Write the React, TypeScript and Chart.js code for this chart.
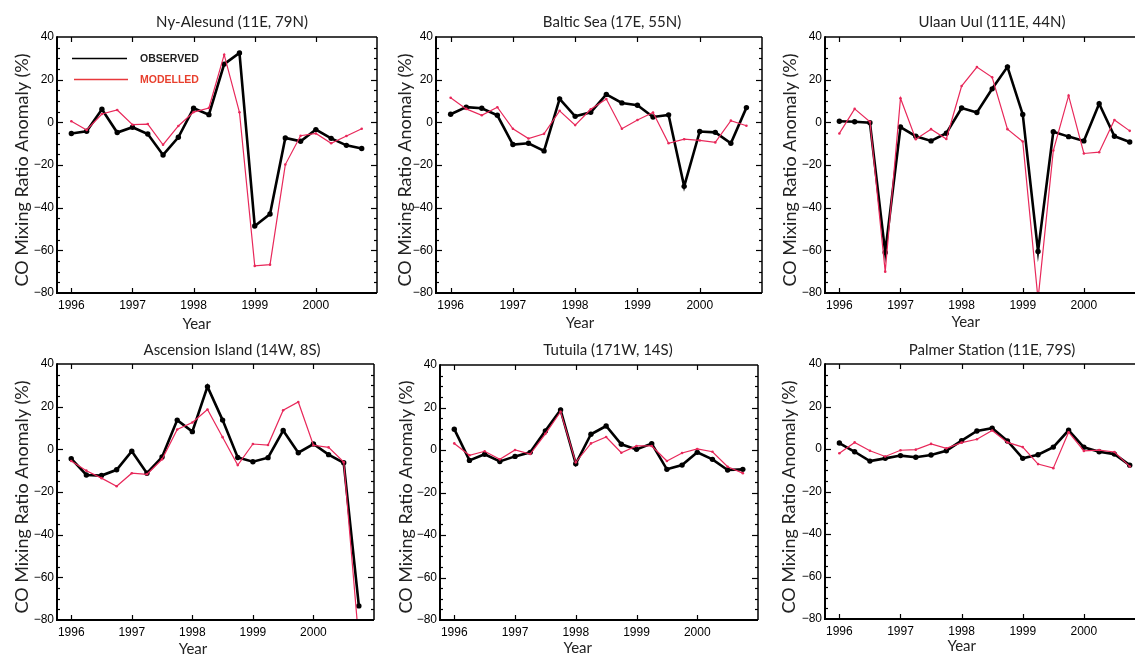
import React, { useEffect, useRef } from 'react';
import { Chart, registerables } from 'chart.js';

Chart.register(...registerables);

// ---------- data ----------
const QUARTERS = [
  1996.0, 1996.25, 1996.5, 1996.75,
  1997.0, 1997.25, 1997.5, 1997.75,
  1998.0, 1998.25, 1998.5, 1998.75,
  1999.0, 1999.25, 1999.5, 1999.75,
  2000.0, 2000.25, 2000.5, 2000.75,
];
const YEAR_TICKS = [1996, 1997, 1998, 1999, 2000];
const Y_MIN = -80;
const Y_MAX = 40;
const Y_STEP = 20;

const NY_OBS = [-5.2, -4.2, 6.1, -4.8, -2.3, -5.5, -15.3, -7.0, 6.6, 3.6, 27.3, 32.5, -48.6, -43.0, -7.3, -8.9, -3.4, -7.5, -10.8, -12.3];
const NY_MOD = [0.5, -3.6, 3.9, 5.8, -1.1, -0.8, -10.5, -1.7, 4.8, 6.7, 31.7, 4.7, -67.3, -66.7, -19.8, -6.3, -5.2, -9.8, -6.4, -3.0];

const BALTIC_OBS = [3.8, 7.1, 6.6, 3.3, -10.4, -9.8, -13.4, 11.0, 2.8, 4.7, 13.1, 9.1, 8.0, 2.5, 3.5, -30.0, -4.3, -4.7, -9.8, 6.9];
const BALTIC_MOD = [11.5, 6.3, 3.3, 7.1, -3.0, -7.6, -5.4, 5.4, -1.3, 6.1, 10.9, -3.0, 1.1, 4.6, -9.8, -7.9, -8.5, -9.4, 0.8, -1.6];

const ULAAN_OBS = [0.5, 0.3, -0.2, -61.0, -2.2, -6.5, -8.7, -5.1, 6.7, 4.6, 15.7, 26.0, 3.7, -60.5, -4.4, -6.7, -8.7, 8.7, -6.5, -9.2];
const ULAAN_MOD = [-5.2, 6.3, 0.3, -70.0, 11.3, -7.9, -3.2, -7.8, 17.0, 25.9, 21.1, -3.2, -9.0, -83.0, -13.2, 12.5, -14.6, -14.0, 1.1, -4.0];

const ASC_OBS = [-4.4, -12.0, -12.3, -9.6, -0.9, -11.2, -3.6, 13.7, 8.3, 29.4, 13.7, -3.8, -5.8, -3.9, 8.8, -1.6, 2.5, -2.5, -6.3, -73.4];
const ASC_MOD = [-5.5, -10.0, -13.5, -17.3, -11.2, -11.7, -4.7, 9.3, 12.6, 18.7, 5.7, -7.4, 2.5, 2.0, 18.3, 22.2, 1.9, 0.9, -6.0, -90.0];

const TUT_OBS = [9.8, -4.9, -2.0, -5.4, -3.0, -1.1, 9.0, 18.9, -6.5, 7.4, 11.3, 2.7, 0.3, 3.0, -9.1, -7.1, -1.1, -4.4, -9.4, -9.1];
const TUT_MOD = [3.1, -2.5, -0.6, -4.4, 0.0, -1.9, 7.6, 18.0, -5.8, 3.1, 6.1, -1.3, 1.9, 1.9, -5.2, -1.4, 0.5, -0.8, -7.9, -10.9];

const PAL_OBS = [2.8, -1.3, -5.7, -4.4, -3.1, -3.9, -2.8, -0.8, 3.9, 8.5, 9.8, 3.8, -4.4, -2.7, 0.9, 8.8, 0.8, -1.3, -2.4, -7.6];
const PAL_MOD = [-2.0, 3.1, -0.8, -3.5, -0.6, -0.3, 2.4, 0.3, 3.0, 4.6, 8.7, 3.1, 0.9, -7.1, -9.0, 7.9, -0.9, -0.5, -1.4, -8.2];

const TITLES = [
  'Ny-Alesund (11E, 79N)',
  'Baltic Sea (17E, 55N)',
  'Ulaan Uul (111E, 44N)',
  'Ascension Island (14W, 8S)',
  'Tutuila (171W, 14S)',
  'Palmer Station (11E, 79S)',
];
const Y_TITLE = 'CO Mixing Ratio Anomaly (%)';
const X_TITLE = 'Year';
const LEGEND_LABELS = ['OBSERVED', 'MODELLED'];

// ---------- layout (page coordinates) ----------
const X_MIN = 1995.765;
const X_MAX = 2001.0;
const PAD_L = 57;
const PAD_T = 37;
const PAD_B = 40;
const PAD_R = 8;

type Panel = {
  obs: number[]; mod: number[]; title: string;
  L: number; T: number; R: number; B: number;
  titleX: number; titleY: number; yTitleX: number; yTitleY: number; yearX: number; yearY: number;
  legend?: boolean;
};

const PANELS: Panel[] = [
  { obs: NY_OBS, mod: NY_MOD, title: TITLES[0], L: 57, T: 37, R: 377, B: 293, titleX: 232, titleY: 22.5, yTitleX: 21.7, yTitleY: 170, yearX: 196.7, yearY: 324, legend: true },
  { obs: BALTIC_OBS, mod: BALTIC_MOD, title: TITLES[1], L: 436, T: 37, R: 762, B: 293, titleX: 612, titleY: 22.5, yTitleX: 405, yTitleY: 170, yearX: 580, yearY: 323 },
  { obs: ULAAN_OBS, mod: ULAAN_MOD, title: TITLES[2], L: 825, T: 37, R: 1145, B: 293, titleX: 992, titleY: 22.5, yTitleX: 790, yTitleY: 170, yearX: 965.7, yearY: 321.7 },
  { obs: ASC_OBS, mod: ASC_MOD, title: TITLES[3], L: 57, T: 364, R: 374, B: 620, titleX: 232, titleY: 350.5, yTitleX: 21.7, yTitleY: 497, yearX: 193, yearY: 649 },
  { obs: TUT_OBS, mod: TUT_MOD, title: TITLES[4], L: 440, T: 365, R: 758, B: 620, titleX: 608, titleY: 350.5, yTitleX: 405.7, yTitleY: 497, yearX: 577.7, yearY: 648 },
  { obs: PAL_OBS, mod: PAL_MOD, title: TITLES[5], L: 825, T: 364, R: 1145, B: 619, titleX: 992, titleY: 350.5, yTitleX: 789, yTitleY: 497, yearX: 961.7, yearY: 645.7 },
];

const OBS_COLOR = '#000000';
const MOD_COLOR = '#e8285a';
const TEXT_FONT = 'Lato, "Open Sans", sans-serif';
const TICK_FONT = '"Liberation Sans", Arial, sans-serif';

const decoPlugin = {
  id: 'deco',
  afterDraw(chart: any, _args: any, opts: any) {
    const { ctx, chartArea: a, scales } = chart;
    const xs = scales.x;
    const ys = scales.y;
    const ox = opts.originX;
    const oy = opts.originY;
    const line = (x1: number, y1: number, x2: number, y2: number) => {
      ctx.beginPath();
      ctx.moveTo(x1, y1);
      ctx.lineTo(x2, y2);
      ctx.stroke();
    };
    ctx.save();
    ctx.strokeStyle = '#000';
    ctx.lineWidth = 1.2;
    // x ticks (inward, top and bottom)
    for (const v of YEAR_TICKS) {
      const px = Math.round(xs.getPixelForValue(v)) + 0.5;
      line(px, a.top, px, a.top + 5);
      line(px, a.bottom, px, a.bottom - 5);
    }
    // y ticks major & minor (inward, left and right)
    for (let v = Y_MIN + 5; v < Y_MAX; v += 5) {
      const py = Math.round(ys.getPixelForValue(v)) + 0.5;
      const len = v % Y_STEP === 0 ? 6 : 3;
      line(a.left, py, a.left + len, py);
      line(a.right, py, a.right - len, py);
    }
    // frame
    ctx.lineWidth = 1.5;
    line(a.left, a.top, a.right, a.top);
    line(a.right, a.top, a.right, a.bottom);
    ctx.lineWidth = 2;
    line(a.left, a.top - 0.75, a.left, a.bottom + 1);
    line(a.left - 1, a.bottom, a.right, a.bottom);

    // texts
    ctx.fillStyle = '#222';
    ctx.textAlign = 'center';
    ctx.textBaseline = 'middle';
    ctx.font = `15px ${TEXT_FONT}`;
    ctx.fillText(opts.title, opts.titleX - ox, opts.titleY - oy);
    ctx.font = `15px ${TEXT_FONT}`;
    ctx.fillText(X_TITLE, opts.yearX - ox, opts.yearY - oy);
    ctx.save();
    ctx.translate(opts.yTitleX - ox, opts.yTitleY - oy);
    ctx.rotate(-Math.PI / 2);
    ctx.font = `18px ${TEXT_FONT}`;
    ctx.fillText(Y_TITLE, 0, 0);
    ctx.restore();

    if (opts.legend) {
      ctx.lineWidth = 1.3;
      ctx.strokeStyle = '#000';
      line(72 - ox, 58.5 - oy, 127 - ox, 58.5 - oy);
      ctx.strokeStyle = '#e8383c';
      line(74 - ox, 79.5 - oy, 128 - ox, 79.5 - oy);
      ctx.textAlign = 'left';
      ctx.font = `bold 10.5px ${TICK_FONT}`;
      ctx.fillStyle = '#222';
      ctx.fillText(LEGEND_LABELS[0], 140 - ox, 59 - oy);
      ctx.fillStyle = '#e8402e';
      ctx.fillText(LEGEND_LABELS[1], 140 - ox, 80 - oy);
    }
    ctx.restore();
  },
};

function PanelChart({ p }: { p: Panel }) {
  const ref = useRef<HTMLCanvasElement | null>(null);
  const cw = PAD_L + (p.R - p.L) + PAD_R;
  const ch = PAD_T + (p.B - p.T) + PAD_B;
  const left = p.L - PAD_L;
  const top = p.T - PAD_T;

  useEffect(() => {
    if (!ref.current) return;
    const chart = new Chart(ref.current, {
      type: 'line',
      data: {
        datasets: [
          {
            label: LEGEND_LABELS[1],
            data: QUARTERS.map((x, i) => ({ x, y: p.mod[i] })),
            borderColor: MOD_COLOR,
            backgroundColor: MOD_COLOR,
            borderWidth: 1.2,
            pointRadius: 1.3,
            pointBorderWidth: 0,
            pointBackgroundColor: MOD_COLOR,
            tension: 0,
            clip: 0,
          },
          {
            label: LEGEND_LABELS[0],
            data: QUARTERS.map((x, i) => ({ x, y: p.obs[i] })),
            borderColor: OBS_COLOR,
            backgroundColor: OBS_COLOR,
            borderWidth: 2.6,
            pointRadius: 2.7,
            pointBorderWidth: 0,
            pointBackgroundColor: OBS_COLOR,
            tension: 0,
            clip: 0,
          },
        ],
      },
      options: {
        animation: false,
        responsive: false,
        maintainAspectRatio: false,
        devicePixelRatio: 1,
        layout: { padding: { left: 0, top: PAD_T, right: PAD_R, bottom: 0 } },
        plugins: {
          legend: { display: false },
          tooltip: { enabled: false },
          title: { display: false },
          deco: {
            originX: left, originY: top,
            title: p.title, titleX: p.titleX, titleY: p.titleY,
            yTitleX: p.yTitleX, yTitleY: p.yTitleY,
            yearX: p.yearX, yearY: p.yearY, legend: !!p.legend,
          },
        } as any,
        scales: {
          x: {
            type: 'linear',
            min: X_MIN,
            max: X_MAX,
            grid: { display: false, drawTicks: false },
            border: { display: false },
            afterBuildTicks: (s: any) => { s.ticks = YEAR_TICKS.map((v) => ({ value: v })); },
            afterFit: (s: any) => { s.height = PAD_B; },
            ticks: {
              autoSkip: false,
              maxRotation: 0,
              padding: 5,
              color: '#000',
              font: { family: TICK_FONT, size: 12 },
              callback: (v: any) => String(v),
            },
          },
          y: {
            type: 'linear',
            min: Y_MIN,
            max: Y_MAX,
            grid: { display: false, drawTicks: false },
            border: { display: false },
            afterFit: (s: any) => { s.width = PAD_L; },
            ticks: {
              stepSize: Y_STEP,
              padding: 3,
              color: '#000',
              font: { family: TICK_FONT, size: 12 },
              callback: (v: any) => (Number(v) < 0 ? '\u2212' + Math.abs(Number(v)) : String(v)),
            },
          },
        },
      },
      plugins: [decoPlugin],
    } as any);
    return () => chart.destroy();
  }, []);

  return (
    <canvas
      ref={ref}
      width={cw}
      height={ch}
      style={{ position: 'absolute', left, top, width: cw, height: ch }}
    />
  );
}

export default function App() {
  return (
    <div
      style={{
        position: 'fixed', left: 0, top: 0, width: 1135, height: 656,
        overflow: 'hidden', background: '#ffffff',
      }}
    >
      {PANELS.map((p, i) => (
        <PanelChart key={i} p={p} />
      ))}
    </div>
  );
}
